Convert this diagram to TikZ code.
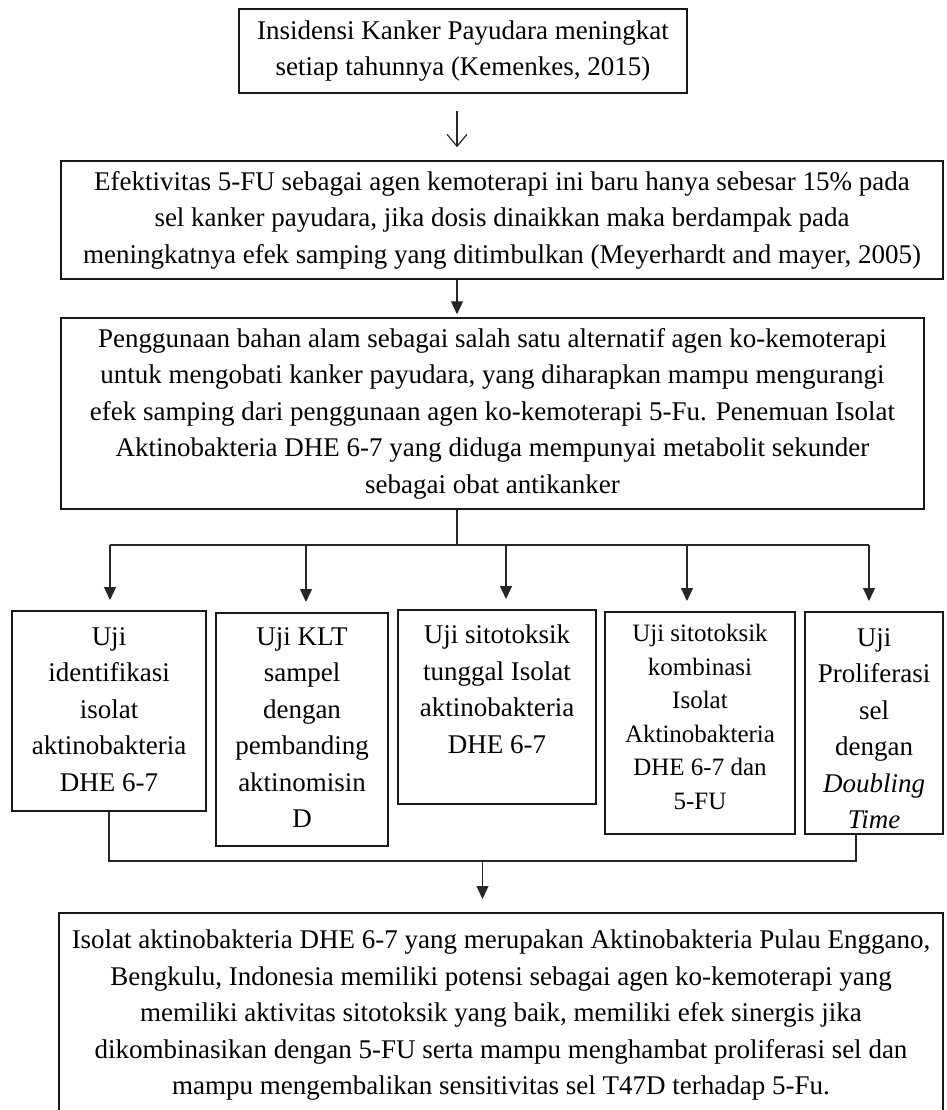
\documentclass[tikz,border=0pt]{standalone}
\usepackage{fontspec}
\setmainfont{Liberation Serif}
\usetikzlibrary{arrows.meta}
\usetikzlibrary{positioning}
\tikzset{
    every node/.style={font=\fontsize{27}{36.5}\selectfont},
    kotak/.style={draw=black!90, line width=1.5pt, align=center, inner sep=0pt},
    isi/.style={align=center, inner sep=0pt},
    garis/.style={draw=black!85, line width=1.2pt},
    panah/.style={garis, -{Triangle[length=13pt,width=12pt]}},
    panahbuka/.style={garis, -{Straight Barb[length=12pt,width=20pt]}}
}

\begin{document}
\begin{tikzpicture}[x=1pt,y=-1pt]
    \useasboundingbox (0,0) rectangle (946,1110);
    \node[kotak, minimum width=448pt, minimum height=84pt] (insiden) at (463,51)
        {Insidensi Kanker Payudara meningkat\\setiap tahunnya (Kemenkes, 2015)};
    \node[kotak, minimum width=882pt, minimum height=118pt] (efektif) at (502,220)
        {Efektivitas 5-FU sebagai agen kemoterapi ini baru hanya sebesar 15\% pada\\
        sel kanker payudara, jika dosis dinaikkan maka berdampak pada\\
        meningkatnya efek samping yang ditimbulkan (Meyerhardt and mayer, 2005)};
    \node[kotak, minimum width=863pt, minimum height=191pt] (penggunaan) at (492.5,413.5)
        {Penggunaan bahan alam sebagai salah satu alternatif agen ko-kemoterapi\\
        untuk mengobati kanker payudara, yang diharapkan mampu mengurangi\\
        efek samping dari penggunaan agen ko-kemoterapi 5-Fu. Penemuan Isolat\\
        Aktinobakteria DHE 6-7 yang diduga mempunyai metabolit sekunder\\
        sebagai obat antikanker};
    \node[kotak, anchor=north, minimum width=194pt, minimum height=200pt] (ujiA) at (109,610) {};
    \node[kotak, anchor=north, minimum width=172pt, minimum height=233pt] (ujiB) at (302,612) {};
    \node[kotak, anchor=north, minimum width=198pt, minimum height=194pt] (ujiC) at (497,609) {};
    \node[kotak, anchor=north, minimum width=190pt, minimum height=222pt] (ujiD) at (700,611) {};
    \node[kotak, anchor=north, minimum width=138pt, minimum height=222pt] (ujiE) at (874,611) {};
    \node[isi, below=17pt of ujiA.north] (teksA)
        {Uji\\identifikasi\\isolat\\aktinobakteria\\DHE 6-7};
    \node[isi, below=15pt of ujiB.north] (teksB)
        {Uji KLT\\sampel\\dengan\\pembanding\\aktinomisin\\D};
    \node[isi, below=16pt of ujiC.north] (teksC)
        {Uji sitotoksik\\tunggal Isolat\\aktinobakteria\\DHE 6-7};
    \node[isi, below=13pt of ujiD.north, font=\fontsize{25}{33.5}\selectfont] (teksD)
        {Uji sitotoksik\\kombinasi\\Isolat\\Aktinobakteria\\DHE 6-7 dan\\5-FU};
    \node[isi, below=17pt of ujiE.north] (teksE)
        {Uji\\Proliferasi\\sel\\dengan\\\textit{Doubling}\\\textit{Time}};
    \node[kotak, anchor=north, minimum width=884pt, minimum height=240pt] (kesimpulan) at (501,912) {};
    \node[isi, below=18pt of kesimpulan.north] (teksKesimpulan)
        {Isolat aktinobakteria DHE 6-7 yang merupakan Aktinobakteria Pulau Enggano,\\
        Bengkulu, Indonesia memiliki potensi sebagai agen ko-kemoterapi yang\\
        memiliki aktivitas sitotoksik yang baik, memiliki efek sinergis jika\\
        dikombinasikan dengan 5-FU serta mampu menghambat proliferasi sel dan\\
        mampu mengembalikan sensitivitas sel T47D terhadap 5-Fu.};
    \coordinate (poros) at (457,0);
    \coordinate (cabang) at (0,545);
    \coordinate (gabung) at (0,861);
    \draw[panahbuka, shorten <=17pt, shorten >=13pt] (insiden.south -| poros) -- (efektif.north -| poros);
    \draw[panah, shorten >=3pt] (efektif.south -| poros) -- (penggunaan.north -| poros);
    \draw[garis] (penggunaan.south -| poros) -- (cabang -| poros);
    \foreach \kotak/\geser in {ujiA/1,ujiB/4,ujiC/9,ujiD/-13,ujiE/-5}
    {\coordinate (\kotak-atas) at ([xshift=\geser pt]\kotak.north);
    \draw[panah, shorten >=10pt] (\kotak-atas |- cabang) -- (\kotak-atas);
    }
    \draw[garis] (ujiA-atas |- cabang) -- (ujiE-atas |- cabang);
    \coordinate (kakiE) at ([xshift=-18pt]ujiE.south);
    \draw[garis] (ujiA.south) -- (ujiA.south |- gabung) -- coordinate (tengah) (kakiE |- gabung) -- (kakiE);
    \draw[panah, shorten >=13pt] (tengah) -- (tengah |- kesimpulan.north);
\end{tikzpicture}
\end{document}
